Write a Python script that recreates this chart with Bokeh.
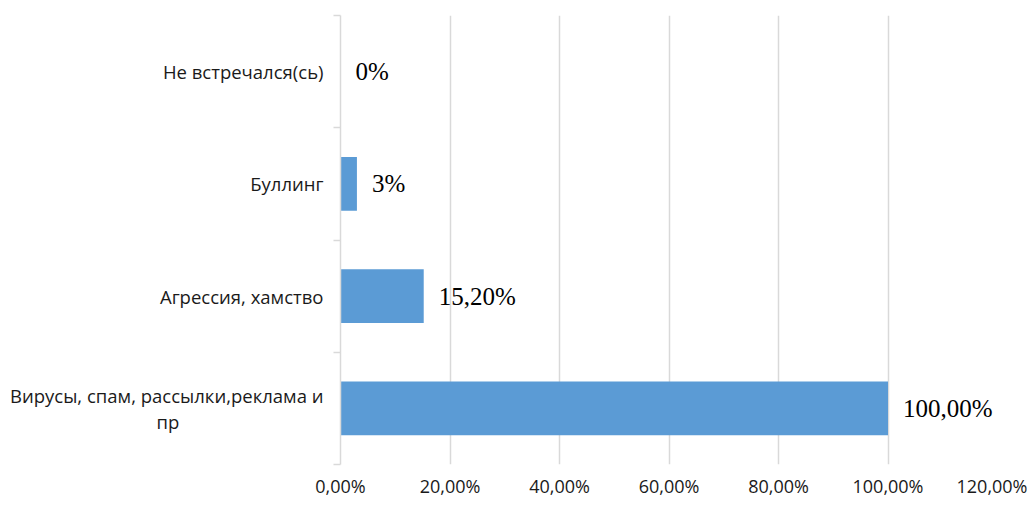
from bokeh.plotting import figure
from bokeh.models import Range1d, FixedTicker, ColumnDataSource, CustomJSTickFormatter, LinearAxis
from bokeh.core.properties import value
from bokeh.embed import file_html
from bokeh.resources import INLINE

# Data (bottom to top)
categories = ["Вирусы, спам, рассылки,реклама и\nпр", "Агрессия, хамство", "Буллинг", "Не встречался(сь)"]
values = [100.0, 15.2, 3.0, 0.0]
value_labels = ["100,00%", "15,20%", "3%", "0%"]
x_ticks = [0, 20, 40, 60, 80, 100, 120]
x_tick_labels = ["0,00%", "20,00%", "40,00%", "60,00%", "80,00%", "100,00%", "120,00%"]

pos = [i + 0.5 for i in range(len(categories))]
src = ColumnDataSource(dict(y=pos, v=values, lab=value_labels))


def centered_lines(text):
    # pad the shorter wrapped line with no-break spaces so it looks centred
    lines = text.split("\n")
    if len(lines) == 1:
        return text
    first, rest = lines[0], lines[1:]
    out = [first]
    for ln in rest:
        out.append(ln + "\u00a0" * 30)
    return "\n".join(out)


display_cats = [centered_lines(c) for c in categories]

p = figure(width=1027, height=500, output_backend="svg", toolbar_location=None,
           x_range=Range1d(0, 120), y_range=Range1d(0, len(categories)),
           min_border_left=340, min_border_right=30, min_border_top=15, min_border_bottom=29)
p.outline_line_color = None
p.background_fill_color = "white"

p.hbar(y="y", right="v", left=0, height=0.48, source=src, color="#5B9BD5", line_color=None)

p.text(x="v", y="y", text="lab", source=src, x_offset=15, text_baseline="middle",
       text_align="left", text_font=value("Liberation Serif"), text_font_size="25px",
       text_color="#000000")

# x axis
p.xaxis.ticker = FixedTicker(ticks=x_ticks)
p.xaxis.major_label_overrides = {t: l for t, l in zip(x_ticks, x_tick_labels)}
p.xaxis.axis_line_color = None
p.xaxis.major_tick_line_color = None
p.xaxis.minor_tick_line_color = None
p.xaxis.major_label_text_font = "Open Sans"
p.xaxis.major_label_text_font_size = "18px"
p.xaxis.major_label_text_color = "#1a1a1a"
p.xaxis.major_label_standoff = 3

# y axis: boundary ticks only
p.yaxis.ticker = FixedTicker(ticks=list(range(len(categories) + 1)))
p.yaxis.formatter = CustomJSTickFormatter(code="return ''")
p.yaxis.axis_line_color = "#D9D9D9"
p.yaxis.axis_line_width = 1.5
p.yaxis.major_tick_line_color = "#D9D9D9"
p.yaxis.major_tick_line_width = 1.5
p.yaxis.major_tick_out = 7
p.yaxis.major_tick_in = 0
p.yaxis.minor_tick_line_color = None
p.yaxis.major_label_standoff = 0

# category label axis
cat_axis = LinearAxis(ticker=FixedTicker(ticks=pos),
                      major_label_overrides={y: c for y, c in zip(pos, display_cats)})
cat_axis.axis_line_color = None
cat_axis.major_tick_line_color = None
cat_axis.minor_tick_line_color = None
cat_axis.major_tick_out = 0
cat_axis.major_tick_in = 0
cat_axis.major_label_standoff = 10
cat_axis.major_label_text_font = "Open Sans"
cat_axis.major_label_text_font_size = "18.5px"
cat_axis.major_label_text_color = "#1a1a1a"
cat_axis.major_label_text_line_height = 1.05
p.add_layout(cat_axis, "left")

p.xgrid.ticker = FixedTicker(ticks=x_ticks)
p.xgrid.grid_line_color = "#D9D9D9"
p.xgrid.grid_line_width = 1.5
p.ygrid.visible = False

open("out.html", "w").write(file_html(p, INLINE))
